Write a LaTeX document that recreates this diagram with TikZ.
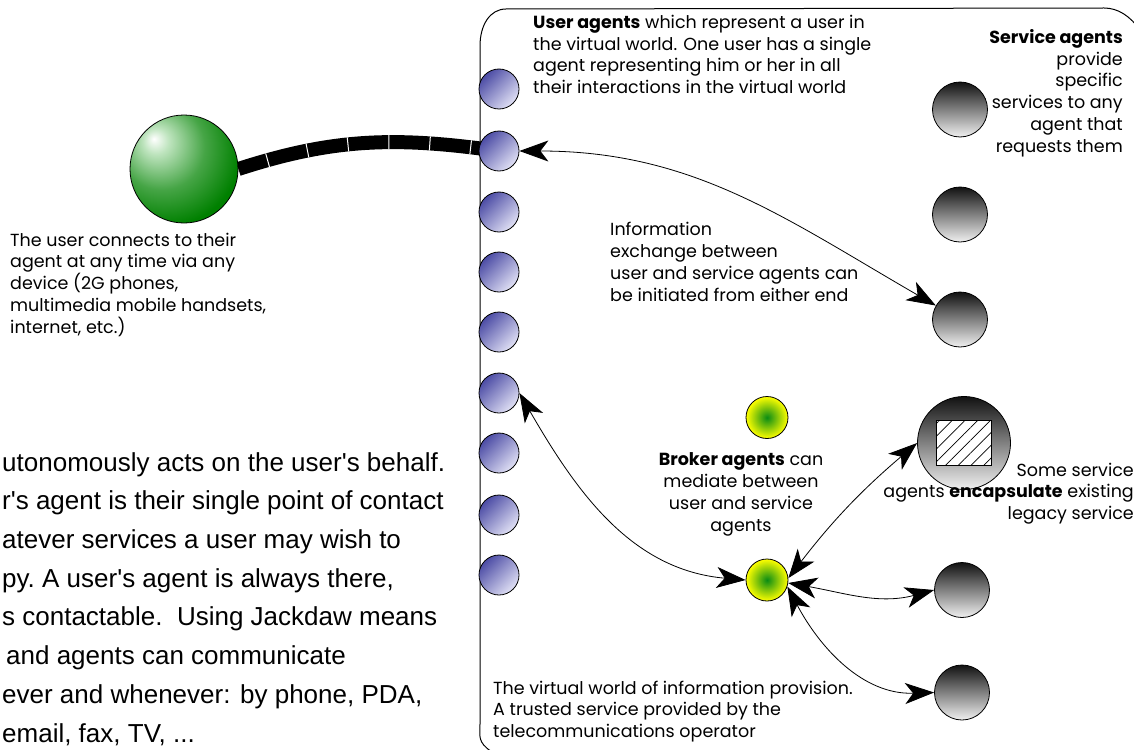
\documentclass[tikz,border=0pt]{standalone}
\usepackage{fontspec}
\usepackage{tikz}
\usetikzlibrary{arrows.meta}
\usetikzlibrary{patterns.meta}
\usetikzlibrary{backgrounds}

\newfontfamily\arialfont{Liberation Sans}
\newfontfamily\gothicfont{Poppins}

\definecolor{uadark}{RGB}{76,76,165}
\definecolor{ualight}{RGB}{225,225,245}
\definecolor{sadark}{RGB}{18,18,18}
\definecolor{salight}{RGB}{240,240,240}
\definecolor{brgreen}{RGB}{10,140,20}
\definecolor{userlight}{RGB}{190,228,190}
\definecolor{usermid}{RGB}{70,165,70}
\definecolor{usergreen}{RGB}{0,128,0}
\definecolor{userdark}{RGB}{0,108,0}
\pgfdeclareradialshading{userball}{\pgfpoint{-14bp}{14bp}}{color(0bp)=(white); color(6bp)=(userlight); color(20bp)=(usermid); color(34bp)=(usergreen); color(58bp)=(userdark); color(80bp)=(userdark)}

\begin{document}
\begin{tikzpicture}
    [
    x=1pt, y=1pt,
    >={Stealth[length=29pt,width=21pt,inset=8pt]},
    useragent/.style={circle,draw,line width=0.8pt,inner sep=0pt,minimum size=40pt,top color=uadark,bottom color=ualight,shading angle=45},
    serviceagent/.style={circle,draw,line width=0.8pt,inner sep=0pt,minimum size=55pt,top color=sadark,bottom color=salight},
    broker/.style={circle,draw,line width=0.8pt,inner sep=0pt,minimum size=42pt,inner color=brgreen,outer color=yellow},
    note/.style={inner sep=0pt,font=\gothicfont\fontsize{17.5}{21.7}\selectfont},
    exch/.style={<->,line width=0.8pt},
    ]
    \useasboundingbox (0,0) rectangle (1134,-749);
    \clip (0,0) rectangle (1134,-749);

    % the virtual world
    \draw [line width=1pt] (492,-752) .. controls (477,-742) and (480,-736) .. (480,-724)
      -- (480,-46) .. controls (480,-25) and (490,-9) .. (506,-9)
      -- (1104,-8) .. controls (1118,-8) and (1130,-16) .. (1140,-30) -- (1140,-760);

    \node (user) at (184,-169) [circle,draw,line width=0.8pt,inner sep=0pt,minimum size=108pt,shading=userball] {};

    \node (ua1) at (499,-89) [useragent] {};
    \node (ua2) at (499,-151) [useragent] {};
    \node (ua3) at (499,-212) [useragent] {};
    \node (ua4) at (499,-272) [useragent] {};
    \node (ua5) at (499,-332) [useragent] {};
    \node (ua6) at (499,-393) [useragent] {};
    \node (ua7) at (499,-453) [useragent] {};
    \node (ua8) at (499,-515) [useragent] {};
    \node (ua9) at (499,-575) [useragent] {};

    \node (sa1) at (960,-109.5) [serviceagent] {};
    \node (sa2) at (960,-214.5) [serviceagent] {};
    \node (sa3) at (960,-319.5) [serviceagent] {};
    \node (enc) at (964,-443) [serviceagent,minimum size=93pt] {};
    \node (legacy) at (enc) [draw,line width=0.8pt,minimum width=55pt,minimum height=45pt,preaction={fill=white},pattern={Lines[angle=45,distance=9pt,line width=0.7pt]}] {};
    \node (sa4) at (962,-590) [serviceagent] {};
    \node (sa5) at (962,-692.5) [serviceagent] {};

    \node (br1) at (767,-417.5) [broker] {};
    \node (br2) at (767,-580) [broker] {};

    \begin{pgfonlayer}{background}
    \draw [line width=14pt] (user.east) to[out=18,in=172] (ua2.center);
    \draw [line width=14pt,white,dash pattern=on 1pt off 40pt,dash phase=-30pt] (user.east) to[out=18,in=172] (ua2.center);
    \end{pgfonlayer}

    \draw [exch] (ua2) to[out=0,in=150] (sa3);
    \draw [exch] (ua6.east) to[out=-60,in=175] (br2.west);
    \draw [exch] (br2.5) to[bend left=6] (enc.west);
    \draw [exch] (br2.-8) to[out=-10,in=195] (sa4.west);
    \draw [exch] (br2.-18) to[out=-62,in=182] (sa5.west);

    % multi-line notes sit on the baseline of their last line
    \node (ualabel) at (533,-93.6) [note,anchor=base west,align=left] {\textbf{User agents} which represent a user in\\the virtual world. One user has a single\\agent representing him or her in all\\their interactions in the virtual world};
    \node (salabel) at (1123,-152) [note,anchor=base east,align=right] {\textbf{Service agents}\\provide\\specific\\services to any\\agent that\\requests them};
    \node (infolabel) at (610,-301) [note,anchor=base west,align=left] {Information\\exchange between\\user and service agents can\\be initiated from either end};
    \node (brlabel) at (741,-531) [note,anchor=base,align=center] {\textbf{Broker agents} can\\mediate between\\user and service\\agents};
    \node (enclabel) at (1134,-519.4) [note,anchor=base east,align=right] {Some service\\agents \textbf{encapsulate} existing\\legacy service};
    \node (userlabel) at (10,-333) [note,anchor=base west,align=left] {The user connects to their\\agent at any time via any\\device (2G phones,\\multimedia mobile handsets,\\internet, etc.)};
    \node (worldlabel) at (493,-737.4) [note,anchor=base west,align=left] {The virtual world of information provision.\\A trusted service provided by the\\telecommunications operator};
    \node (jackdaw) at (2,-742) [inner sep=0pt,anchor=base west,align=left,font=\arialfont\fontsize{26}{38.7}\selectfont] {utonomously acts on the user's behalf.\\r's agent is their single point of contact\\atever services a user may wish to\\py.\ A user's agent is always there,\\s contactable.\ \ Using Jackdaw means\\\hspace*{4pt}and agents can communicate\\ever and whenever: by phone, PDA,\\email, fax, TV, ...};
\end{tikzpicture}
\end{document}
